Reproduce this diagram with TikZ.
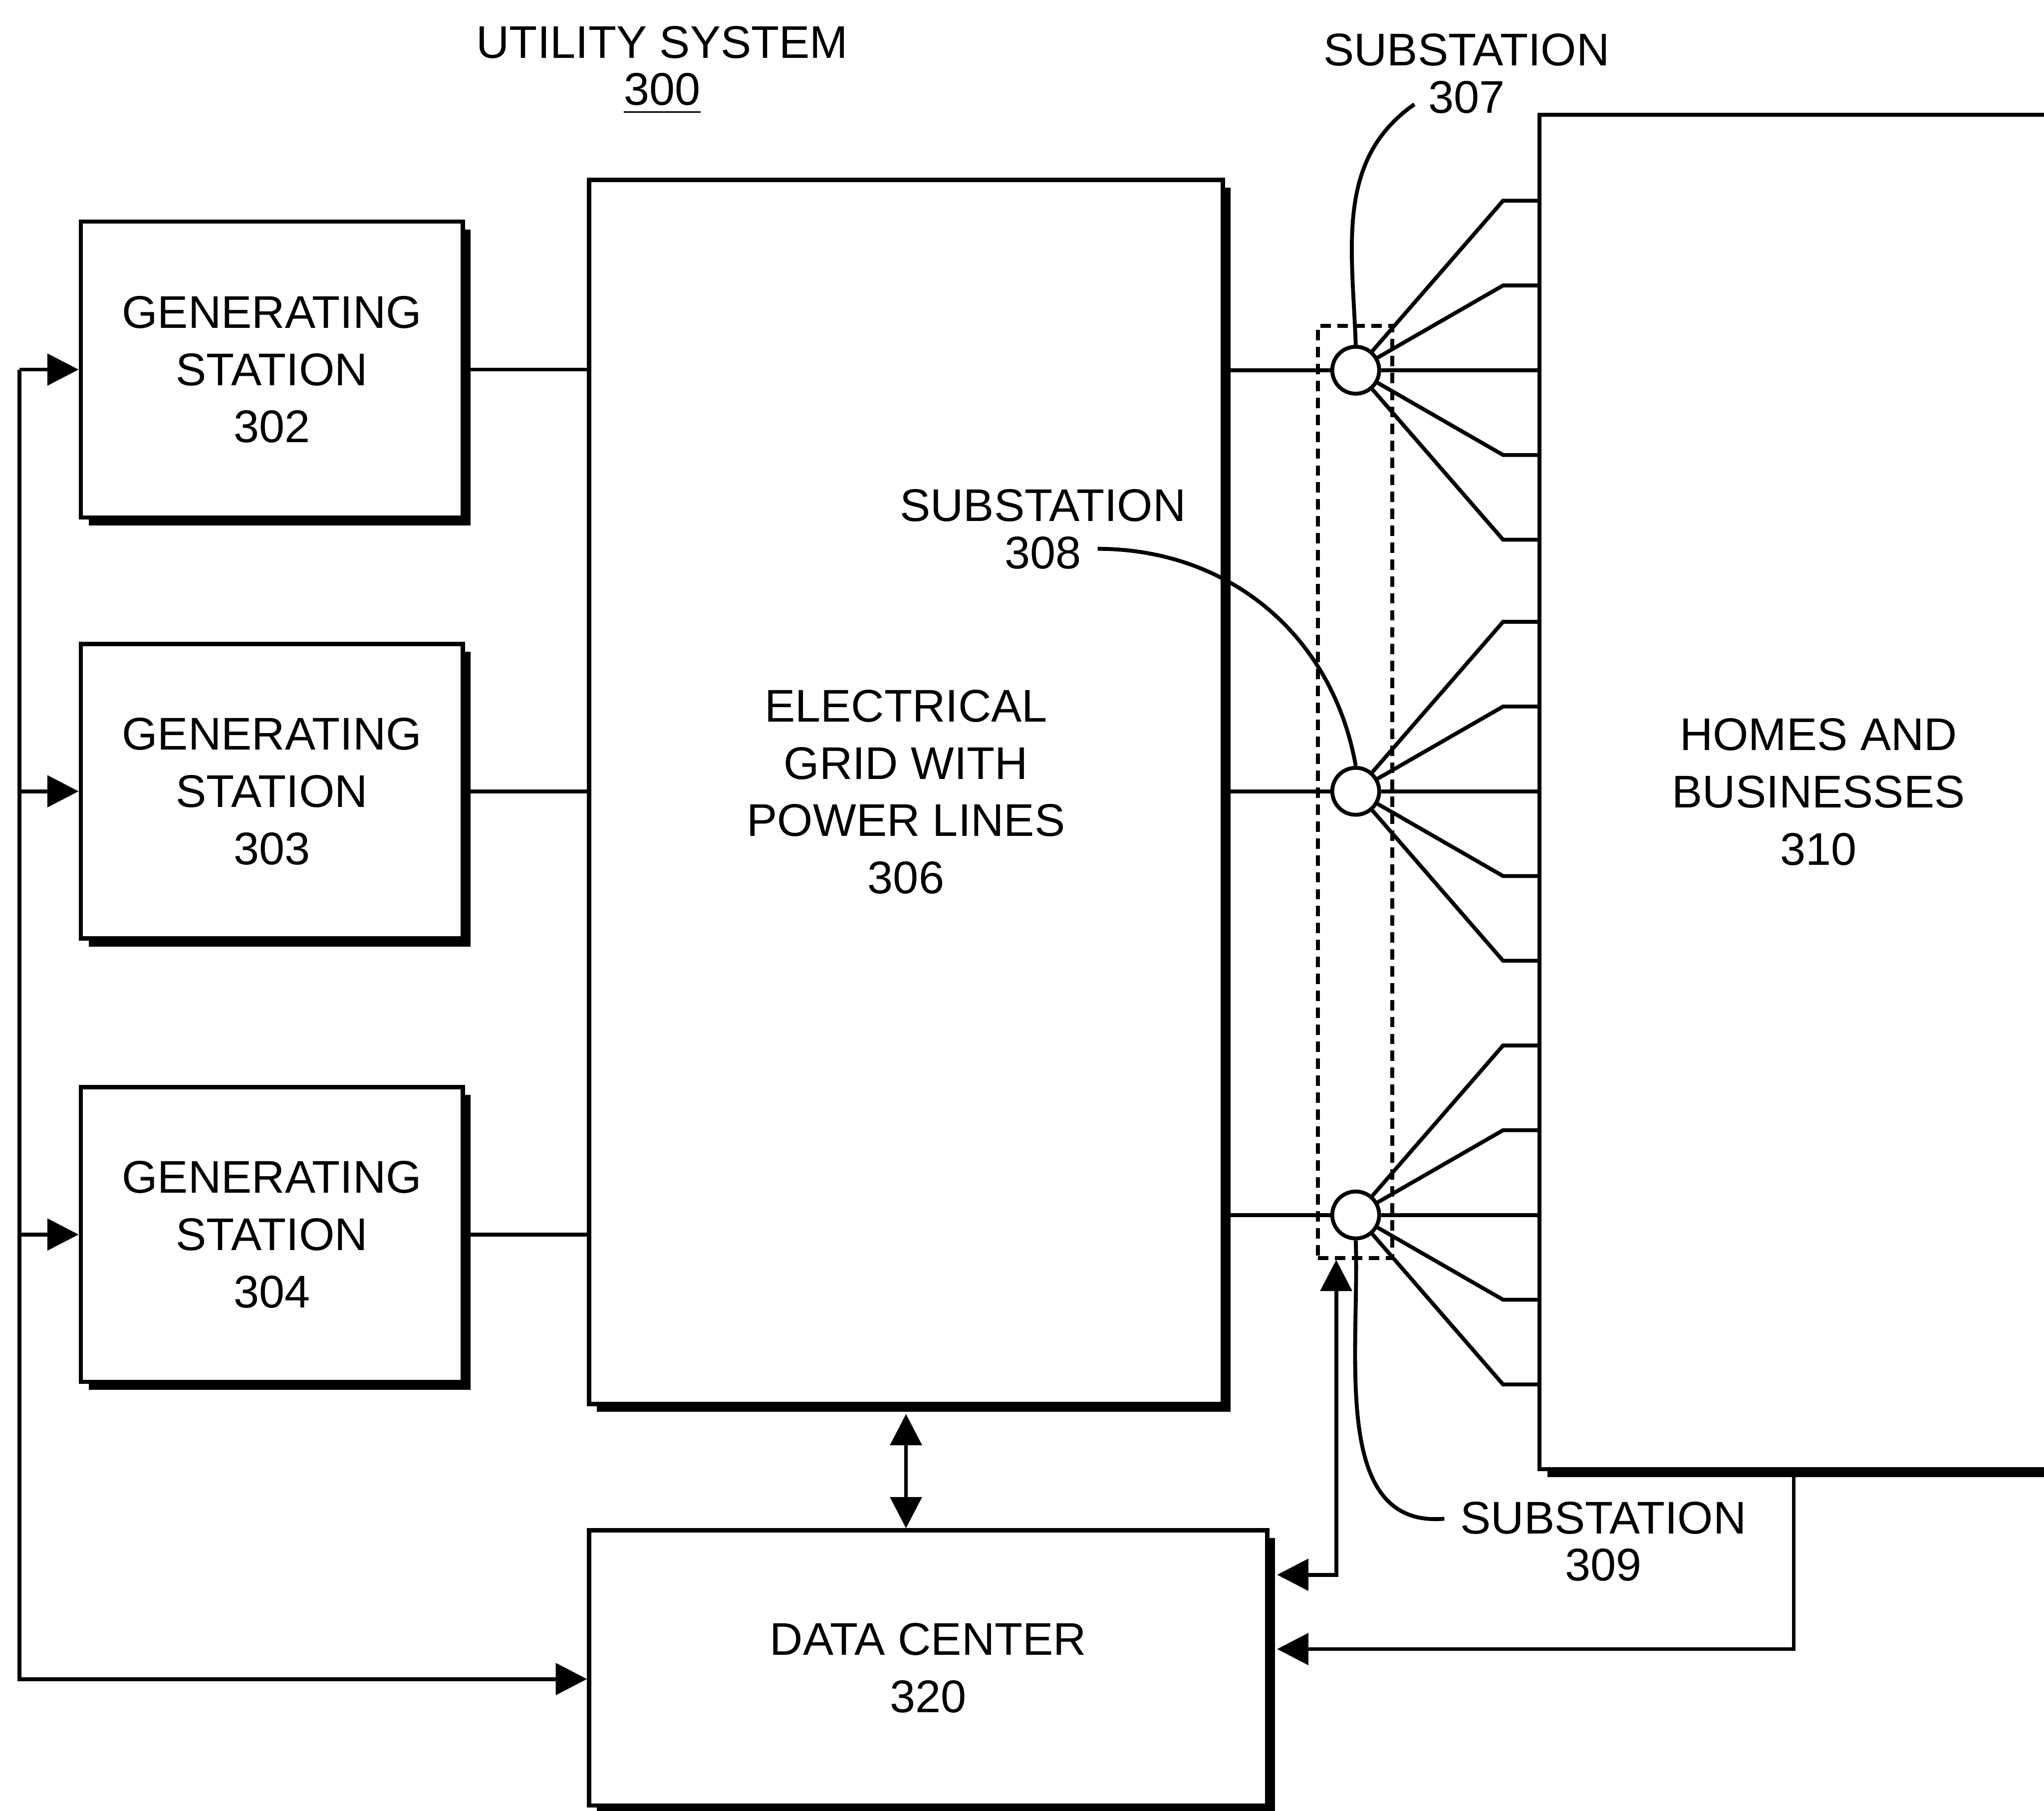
\documentclass[tikz,border=0pt]{standalone}
\usepackage{fontspec}
\setmainfont{Liberation Sans}
\usetikzlibrary{arrows.meta,shadows,positioning}

\begin{document}
\begin{tikzpicture}[>={Triangle[length=2.4mm,width=2.4mm]},line width=.85pt,
		font=\fontsize{10}{12.5}\selectfont,
		block/.style={draw,line width=.95pt,fill=white,align=center,inner sep=0pt,
			drop shadow={shadow xshift=.6mm,shadow yshift=-.6mm,fill=black,opacity=1}},
		sub/.style={draw,circle,fill=white,minimum size=3.6mm,inner sep=0pt},
		lbl/.style={align=center,inner sep=0pt,font=\fontsize{10}{10.3}\selectfont}]
		\useasboundingbox (0,0) rectangle (15.68,-13.89);
		\clip (0,0) rectangle (15.68,-13.89);
		\node[lbl] (title) at (5.08,-0.54) {UTILITY SYSTEM\\\underline{300}};
		\node[block,minimum width=2.93cm,minimum height=2.27cm] (gen302) at (2.085,-2.835) {GENERATING\\STATION\\302};
		\node[block,minimum width=2.93cm,minimum height=2.26cm] (gen303) at (2.085,-6.07) {GENERATING\\STATION\\303};
		\node[block,minimum width=2.93cm,minimum height=2.26cm] (gen304) at (2.085,-9.47) {GENERATING\\STATION\\304};
		\node[block,minimum width=4.86cm,minimum height=9.39cm] (grid) at (6.95,-6.075) {ELECTRICAL\\GRID WITH\\POWER LINES\\306};
		\node[block,minimum width=5.20cm,minimum height=2.11cm] (dc) at (7.12,-12.795) {DATA CENTER\\320};
		\node[block,minimum width=4.28cm,minimum height=10.39cm] (homes) at (13.95,-6.075) {HOMES AND\\BUSINESSES\\310};
		\node[draw,line width=.8pt,dash pattern=on .8mm off .5mm,minimum width=.57cm,minimum height=7.15cm,inner sep=0pt] (subs) at (10.395,-6.075) {};
		\foreach \g in {gen302,gen303,gen304}
			\draw (\g.east) -- (\g.east -| grid.west);
		\foreach \s/\y in {sub307/-2.84,sub308/-6.07,sub309/-9.32}{
			\node[sub] (\s) at (10.40,\y) {};
			\draw (grid.east |- \s) -- (\s);
			\foreach \d in {-1.3,-0.65,0,0.65,1.3}{
				\path ([shift={(1.13,\d)}]\s.center) coordinate (bend);
				\draw (\s) -- (bend) -- (bend -| homes.west);
			}
		}
		\node[lbl] (lab307) at (11.25,-0.565) {SUBSTATION\\307};
		\node[lbl] (lab308) at (8.00,-4.06) {SUBSTATION\\308};
		\node[lbl] (lab309) at (12.30,-11.825) {SUBSTATION\\309};
		\coordinate (l307) at (10.85,-0.80);
		\coordinate (l308) at (8.42,-4.21);
		\coordinate (l309) at (11.08,-11.65);
		\draw (l307) to[out=215,in=92] (sub307.north);
		\draw (l308) to[out=0,in=100] (sub308.north);
		\draw (l309) to[out=185,in=272] (sub309.south);
		\coordinate (bus) at (0.15,0);
		\draw[->] (bus |- gen302.west) |- ([yshift=-.85mm]dc.west);
		\foreach \g in {gen302,gen303,gen304}
			\draw[->] (bus |- \g.west) -- (\g.west);
		\draw[<->] ([yshift=-.6mm]grid.south) -- (grid.south |- dc.north);
		\draw[<->] ([xshift=-1.45mm]subs.south) |- ([xshift=.6mm,yshift=7.15mm]dc.east);
		\draw[->] ([xshift=-1.9mm]homes.south) |- ([xshift=.6mm,yshift=1.45mm]dc.east);
	\end{tikzpicture}
\end{document}
